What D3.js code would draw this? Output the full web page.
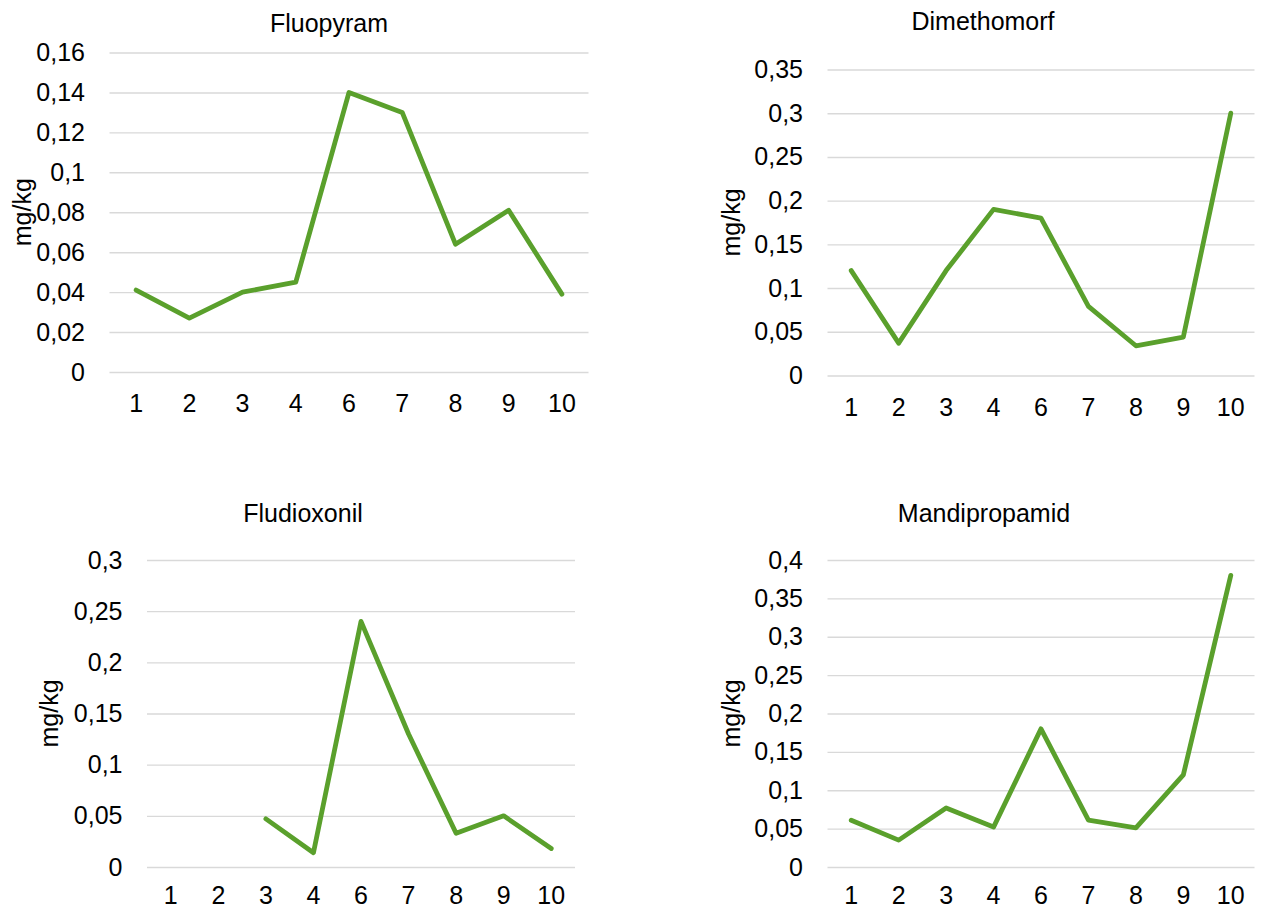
<!DOCTYPE html>
<html>
<head>
<meta charset="utf-8">
<script src="https://cdn.jsdelivr.net/npm/d3@7"></script>
<style>
  html, body { margin: 0; padding: 0; background: #fff; }
  svg { display: block; }
  text { font-family: "Liberation Sans", Arial, sans-serif; fill: #000; }
</style>
</head>
<body>
<svg id="chart" width="1264" height="909"></svg>
<script>
// Sampling points along the x axis (no point 5)
const categories = ["1", "2", "3", "4", "6", "7", "8", "9", "10"];

// Residue levels, mg/kg (null = not detected)
const fluopyram     = [0.041, 0.027, 0.040, 0.045, 0.140, 0.130, 0.064, 0.081, 0.039];
const dimethomorf   = [0.120, 0.037, 0.120, 0.190, 0.180, 0.079, 0.034, 0.044, 0.300];
const fludioxonil   = [null, null, 0.047, 0.014, 0.240, 0.130, 0.033, 0.050, 0.018];
const mandipropamid = [0.061, 0.035, 0.077, 0.052, 0.180, 0.061, 0.051, 0.120, 0.380];

// Y-axis tick values per panel
const fluopyramTicks     = [0, 0.02, 0.04, 0.06, 0.08, 0.10, 0.12, 0.14, 0.16];
const dimethomorfTicks   = [0, 0.05, 0.10, 0.15, 0.20, 0.25, 0.30, 0.35];
const fludioxonilTicks   = [0, 0.05, 0.10, 0.15, 0.20, 0.25, 0.30];
const mandipropamidTicks = [0, 0.05, 0.10, 0.15, 0.20, 0.25, 0.30, 0.35, 0.40];

const unitLabel = "mg/kg";

// Decimal comma formatting
const locale = d3.formatLocale({ decimal: ",", thousands: " ", grouping: [3], currency: ["", ""] });
const fmt = locale.format("~g");

const panels = [
  { title: "Fluopyram", values: fluopyram, ticks: fluopyramTicks,
    box: { left: 109.5, right: 588.5, top: 52.5, bottom: 372 },
    titlePos: [329, 31.5], unitX: 30.5, catOffset: 40 },
  { title: "Dimethomorf", values: dimethomorf, ticks: dimethomorfTicks,
    box: { left: 827.5, right: 1254.5, top: 69.5, bottom: 375.5 },
    titlePos: [983, 29.5], unitX: 740, catOffset: 40 },
  { title: "Fludioxonil", values: fludioxonil, ticks: fludioxonilTicks,
    box: { left: 147, right: 575, top: 560, bottom: 867 },
    titlePos: [303, 521.5], unitX: 58, catOffset: 36.5 },
  { title: "Mandipropamid", values: mandipropamid, ticks: mandipropamidTicks,
    box: { left: 827.5, right: 1254.5, top: 560, bottom: 867 },
    titlePos: [984, 521.5], unitX: 740, catOffset: 36.5 }
];

const svg = d3.select("#chart");
const FONT = 25;
const LINE_COLOR = "#5aa02c";
const GRID_COLOR = "#d9d9d9";

panels.forEach(p => {
  const b = p.box;
  const x = d3.scaleBand().domain(categories).range([b.left, b.right]);
  const y = d3.scaleLinear()
    .domain([0, d3.max(p.ticks)])
    .range([b.bottom, b.top]);

  const g = svg.append("g");

  // Horizontal gridlines and value labels
  const yAxis = d3.axisLeft(y)
    .tickValues(p.ticks)
    .tickFormat(fmt)
    .tickSize(-(b.right - b.left))
    .tickPadding(24.5);
  const ya = g.append("g")
    .attr("transform", `translate(${b.left},0)`)
    .call(yAxis);
  ya.select(".domain").remove();
  ya.selectAll(".tick line")
    .attr("stroke", GRID_COLOR)
    .attr("stroke-width", 1.4);
  ya.selectAll(".tick text")
    .attr("font-size", FONT)
    .attr("fill", "#000");

  // Category labels
  const xAxis = d3.axisBottom(x).tickSize(0).tickPadding(0);
  const xa = g.append("g")
    .attr("transform", `translate(0,${b.bottom})`)
    .call(xAxis);
  xa.select(".domain").remove();
  xa.selectAll(".tick text")
    .attr("font-size", FONT)
    .attr("fill", "#000")
    .attr("dy", null)
    .attr("y", p.catOffset);

  // Series line
  const line = d3.line()
    .defined(d => d.v != null)
    .x(d => x(d.c) + x.bandwidth() / 2)
    .y(d => y(d.v));
  g.append("path")
    .datum(categories.map((c, i) => ({ c, v: p.values[i] })))
    .attr("d", line)
    .attr("fill", "none")
    .attr("stroke", LINE_COLOR)
    .attr("stroke-width", 4.8)
    .attr("stroke-linejoin", "round")
    .attr("stroke-linecap", "round");

  // Title
  g.append("text")
    .attr("x", p.titlePos[0])
    .attr("y", p.titlePos[1])
    .attr("text-anchor", "middle")
    .attr("font-size", FONT)
    .text(p.title);

  // Unit label
  const cy = (b.top + b.bottom) / 2;
  g.append("text")
    .attr("transform", `translate(${p.unitX},${cy}) rotate(-90)`)
    .attr("text-anchor", "middle")
    .attr("font-size", FONT)
    .text(unitLabel);
});
</script>
</body>
</html>
